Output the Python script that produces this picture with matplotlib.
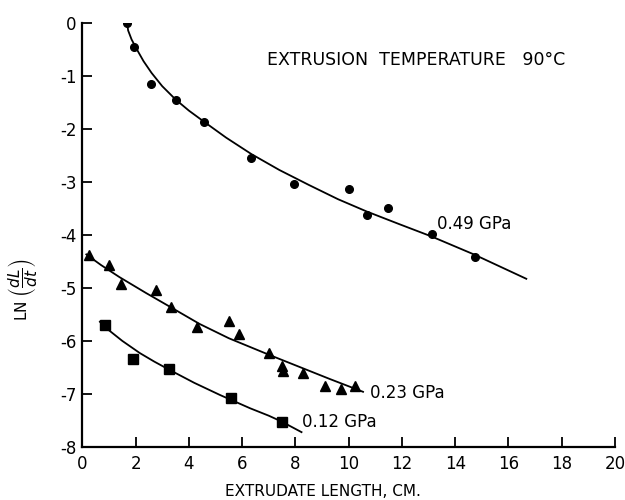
import matplotlib
matplotlib.use("Agg")
import matplotlib.pyplot as plt

plt.rcParams["axes.unicode_minus"] = False

# measured points, 0.49 GPa (circles)
x_049 = [1.68, 1.94, 2.58, 3.52, 4.57, 6.33, 7.95, 10.02, 10.67, 11.46, 13.13, 14.73]
y_049 = [0.0, -0.47, -1.16, -1.46, -1.88, -2.56, -3.05, -3.14, -3.63, -3.49, -3.99, -4.41]
# fitted curve, 0.49 GPa
cx_049 = [1.68, 1.72, 1.85, 2.04, 2.3, 2.6, 3.0, 3.5, 4.0, 4.57, 5.4, 6.35,
          7.4, 8.5, 9.6, 10.67, 11.9, 13.1, 14.7, 16.67]
cy_049 = [0.0, -0.15, -0.32, -0.5, -0.73, -0.95, -1.2, -1.45, -1.66, -1.87, -2.17, -2.48,
          -2.78, -3.06, -3.33, -3.56, -3.8, -4.03, -4.37, -4.83]

# 0.23 GPa (triangles)
x_023 = [0.26, 1.01, 1.44, 2.78, 3.32, 4.29, 5.52, 5.89, 7.0, 7.5, 7.52, 8.29, 9.1, 9.7, 10.23]
y_023 = [-4.38, -4.57, -4.93, -5.05, -5.36, -5.73, -5.62, -5.87, -6.22, -6.47, -6.56, -6.61, -6.85, -6.91, -6.85]
cx_023 = [0.15, 0.7, 1.4, 2.4, 3.3, 4.4, 5.5, 7.0, 8.2, 9.3, 10.54]
cy_023 = [-4.37, -4.57, -4.8, -5.1, -5.36, -5.68, -5.95, -6.26, -6.5, -6.72, -6.96]

# 0.12 GPa (squares)
x_012 = [0.85, 1.89, 3.25, 5.6, 7.48]
y_012 = [-5.70, -6.34, -6.53, -7.08, -7.52]
cx_012 = [0.66, 1.0, 1.5, 2.16, 2.7, 3.25, 4.2, 5.17, 6.3, 7.0, 7.48, 8.23]
cy_012 = [-5.64, -5.8, -6.0, -6.23, -6.39, -6.54, -6.79, -7.02, -7.27, -7.41, -7.52, -7.72]

x_ticks = list(range(0, 21, 2))
y_ticks = list(range(-8, 1))

fig = plt.figure(figsize=(6.25, 5), dpi=100)
ax = fig.add_axes([0.1317, 0.106, 0.8523, 0.849])

ax.plot(cx_049, cy_049, color="black", lw=1.3)
ax.plot(cx_023, cy_023, color="black", lw=1.3)
ax.plot(cx_012, cy_012, color="black", lw=1.3)
ax.plot(x_049, y_049, "o", color="black", ms=5.5)
ax.plot(x_023, y_023, "^", color="black", ms=7)
ax.plot(x_012, y_012, "s", color="black", ms=6.5)

ax.set_xlim(0, 20)
ax.set_ylim(-8, 0)
ax.set_xticks(x_ticks)
ax.set_yticks(y_ticks)
ax.tick_params(direction="in", length=7, width=1.3, labelsize=12)
ax.tick_params(axis="x", pad=6)
ax.tick_params(axis="y", pad=4)
for side in ("top", "right"):
    ax.spines[side].set_visible(False)
for side in ("left", "bottom"):
    ax.spines[side].set_linewidth(1.6)

ax.set_xlabel("EXTRUDATE LENGTH, CM.", fontsize=11)
ax.xaxis.set_label_coords(0.452, -0.088)
ax.set_ylabel(r"LN $\left(\dfrac{dL}{dt}\right)$", fontsize=11)
ax.yaxis.set_label_coords(-0.082, 0.37)

ax.text(0.347, 0.911, "EXTRUSION  TEMPERATURE   90°C", transform=ax.transAxes,
        fontsize=12.5, va="center")
ax.text(13.3, -3.8, "0.49 GPa", fontsize=12, va="center")
ax.text(10.8, -6.98, "0.23 GPa", fontsize=12, va="center")
ax.text(8.23, -7.52, "0.12 GPa", fontsize=12, va="center")

fig.savefig("out.png", dpi=100)
